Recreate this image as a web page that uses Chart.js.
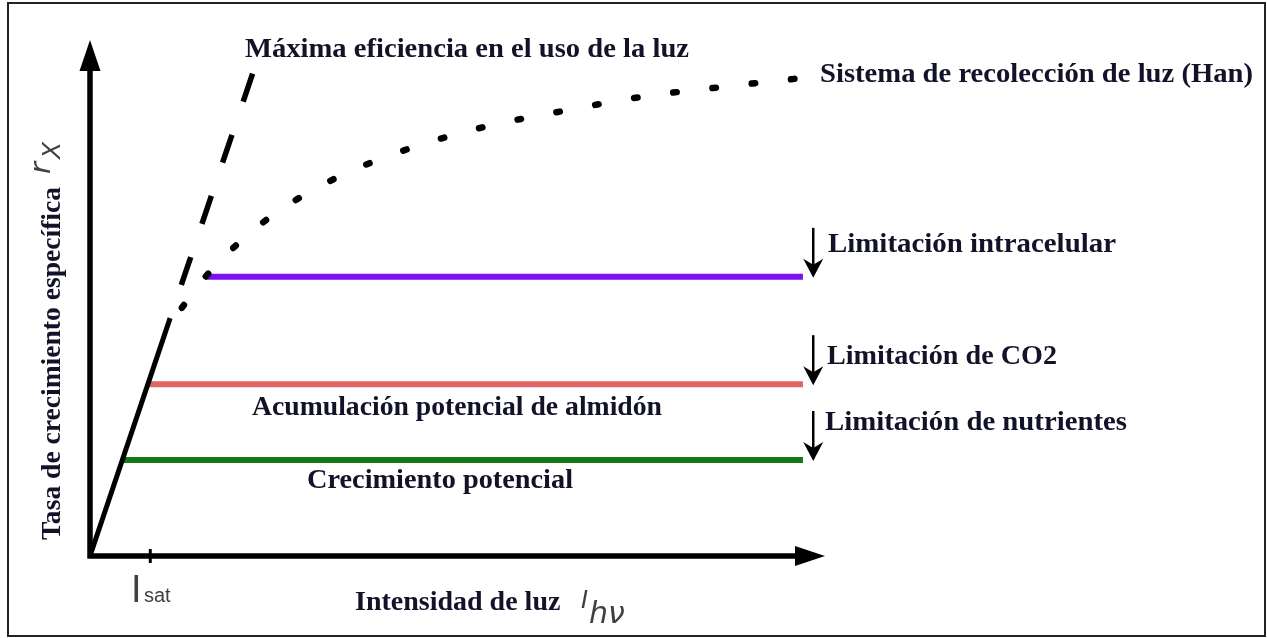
<!DOCTYPE html>
<html>
<head>
<meta charset="utf-8">
<script src="https://cdn.jsdelivr.net/npm/chart.js"></script>
<style>
html, body { margin: 0; padding: 0; background: #fff; }
#wrap { width: 1267px; height: 638px; }
</style>
</head>
<body>
<div id="wrap"><canvas id="growthChart" width="1267" height="638"></canvas></div>
<script>
// arbitrary units: light intensity (x) 0-100, specific growth rate (y) 0-100
var maxEffX = [0, 10.9, 22.2];
var maxEffY = [0, 46.1, 93.8];
var hanX = [12.5, 15.7, 23.4, 32.7, 42.9, 53.5, 64.2, 75.1, 86.0, 96.7];
var hanY = [48.1, 54.1, 64.5, 72.7, 78.7, 83.1, 86.2, 89.0, 90.9, 92.6];
var limitNames = ['Limitación intracelular', 'Limitación de CO2', 'Limitación de nutrientes'];
var limitLevels = [54.1, 33.3, 18.6];
var limitStart = [15.7, 8.0, 4.5];
var limitEnd = 97.0;
var isatX = 8.2;
var arrowX = 98.4;

var limitColors = ['#7b12ee', '#e06464', '#137a13'];
var textColor = '#121228';
var mathColor = '#404040';
var serif = '"Liberation Serif", "Times New Roman", serif';

function pts(xs, ys) {
	var out = [];
	for (var i = 0; i < xs.length; i++) {
		out.push({ x: xs[i], y: ys[i] });
	}
	return out;
}

function fitText(ctx, text, x, y, w) {
	var m = ctx.measureText(text).width;
	ctx.save();
	ctx.translate(x, y);
	if (w) ctx.scale(w / m, 1);
	ctx.fillText(text, 0, 0);
	ctx.restore();
}

// text labels, pixel layout: [text, left, baseline, width]
var notes = [
	['Máxima eficiencia en el uso de la luz', 245, 57, 444],
	['Sistema de recolección de luz (Han)', 820, 82, 433],
	[limitNames[0], 828, 252, 288],
	[limitNames[1], 827, 364, 230],
	[limitNames[2], 825, 430, 302],
	['Acumulación potencial de almidón', 252, 415, 410],
	['Crecimiento potencial', 307, 488, 266],
	['Intensidad de luz', 355, 610, 0]
];

var diagram = {
	id: 'diagram',
	beforeDatasetsDraw: function(chart) {
		var ctx = chart.ctx, xs = chart.scales.x, ys = chart.scales.y;
		var x0 = xs.getPixelForValue(0), y0 = ys.getPixelForValue(0);
		var xEnd = xs.getPixelForValue(xs.max), yEnd = ys.getPixelForValue(ys.max);
		ctx.save();
		// frame
		ctx.strokeStyle = '#222';
		ctx.lineWidth = 2;
		ctx.strokeRect(8, 3, 1257, 633);
		// axes
		ctx.strokeStyle = '#000';
		ctx.fillStyle = '#000';
		ctx.lineWidth = 5.5;
		ctx.beginPath();
		ctx.moveTo(x0, y0 + 2.5);
		ctx.lineTo(x0, yEnd + 28);
		ctx.moveTo(x0 - 2.5, y0);
		ctx.lineTo(xEnd - 27, y0);
		ctx.stroke();
		ctx.beginPath();
		ctx.moveTo(x0, yEnd);
		ctx.lineTo(x0 - 10.5, yEnd + 31);
		ctx.lineTo(x0 + 10.5, yEnd + 31);
		ctx.closePath();
		ctx.fill();
		ctx.beginPath();
		ctx.moveTo(xEnd, y0);
		ctx.lineTo(xEnd - 30, y0 - 10);
		ctx.lineTo(xEnd - 30, y0 + 10);
		ctx.closePath();
		ctx.fill();
		// Isat tick
		var ix = xs.getPixelForValue(isatX);
		ctx.lineWidth = 3;
		ctx.beginPath();
		ctx.moveTo(ix, y0 - 7);
		ctx.lineTo(ix, y0 + 7);
		ctx.stroke();
		ctx.restore();
	},
	afterDatasetsDraw: function(chart) {
		var ctx = chart.ctx, xs = chart.scales.x, ys = chart.scales.y;
		ctx.save();
		// limitation arrows
		var ax = xs.getPixelForValue(arrowX);
		ctx.strokeStyle = '#000';
		ctx.fillStyle = '#000';
		for (var i = 0; i < limitLevels.length; i++) {
			var tip = ys.getPixelForValue(limitLevels[i]) + 1;
			ctx.lineWidth = 2.5;
			ctx.beginPath();
			ctx.moveTo(ax, tip - 50);
			ctx.lineTo(ax, tip - 10);
			ctx.stroke();
			ctx.beginPath();
			ctx.moveTo(ax, tip);
			ctx.lineTo(ax - 10, tip - 19);
			ctx.lineTo(ax, tip - 13);
			ctx.lineTo(ax + 10, tip - 19);
			ctx.closePath();
			ctx.fill();
		}
		// labels
		ctx.fillStyle = textColor;
		ctx.font = 'bold 28px ' + serif;
		ctx.textBaseline = 'alphabetic';
		notes.forEach(function(n) {
			fitText(ctx, n[0], n[1], n[2], n[3]);
		});
		// y axis title
		ctx.save();
		ctx.translate(60, 540);
		ctx.rotate(-Math.PI / 2);
		fitText(ctx, 'Tasa de crecimiento específica', 0, 0, 353);
		ctx.fillStyle = mathColor;
		ctx.font = 'italic 29px "DejaVu Sans", sans-serif';
		ctx.fillText('r', 366, -10);
		ctx.font = 'italic 25px "DejaVu Sans", sans-serif';
		ctx.fillText('X', 381, 0);
		ctx.restore();
		// math labels
		ctx.fillStyle = mathColor;
		ctx.font = 'italic 24px "DejaVu Sans", sans-serif';
		ctx.fillText('I', 581, 608);
		ctx.font = 'italic 30px "DejaVu Sans", sans-serif';
		ctx.fillText('hν', 589, 623);
		ctx.font = '38px "Liberation Sans", Arial, sans-serif';
		ctx.fillText('I', 131, 602);
		ctx.font = '20px "Liberation Sans", Arial, sans-serif';
		ctx.fillText('sat', 144, 602);
		ctx.restore();
	}
};

var datasets = [
	{ data: pts(maxEffX.slice(0, 2), maxEffY.slice(0, 2)), borderColor: '#000', borderWidth: 5 },
	{ data: pts(maxEffX.slice(1), maxEffY.slice(1)), borderColor: '#000', borderWidth: 5.5,
		borderDash: [29.5, 35], borderDashOffset: 29.5 },
	{ data: pts(hanX, hanY), borderColor: '#000', borderWidth: 6.5, borderDash: [3.5, 36],
		borderCapStyle: 'round', cubicInterpolationMode: 'monotone' }
];
for (var i = 0; i < limitLevels.length; i++) {
	datasets.push({
		data: [{ x: limitStart[i], y: limitLevels[i] }, { x: limitEnd, y: limitLevels[i] }],
		borderColor: limitColors[i],
		borderWidth: 6
	});
}
datasets.forEach(function(d) {
	d.showLine = true;
	d.pointRadius = 0;
	d.clip = false;
	d.fill = false;
});

var growthChart = new Chart(document.getElementById('growthChart'), {
	type: 'scatter',
	data: { datasets: datasets },
	plugins: [diagram],
	options: {
		responsive: false,
		animation: false,
		events: [],
		layout: { padding: { left: 90, right: 442, top: 40, bottom: 82 } },
		plugins: { legend: { display: false }, tooltip: { enabled: false } },
		scales: {
			x: { type: 'linear', min: 0, max: 100, display: false },
			y: { type: 'linear', min: 0, max: 100, display: false }
		}
	}
});
</script>
</body>
</html>
